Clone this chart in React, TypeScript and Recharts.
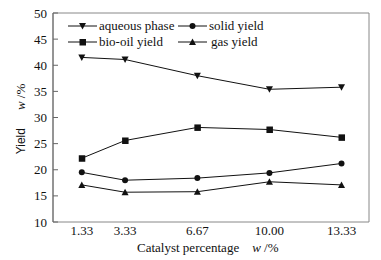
import { LineChart, Line, XAxis, YAxis, ReferenceArea } from "recharts";

// catalyst percentage w/% (x positions of the points)
const catalyst = [1.33, 3.33, 6.67, 10.0, 13.33];

// yields w/%
const aqueousPhase = [41.5, 41.1, 38.0, 35.4, 35.8];
const solidYield = [19.5, 18.0, 18.4, 19.4, 21.2];
const bioOilYield = [22.2, 25.6, 28.1, 27.7, 26.2];
const gasYield = [17.1, 15.7, 15.8, 17.7, 17.1];

const yTicks = [10, 15, 20, 25, 30, 35, 40, 45, 50];
const xTickMarks = [1.667, 3.333, 5, 6.667, 8.333, 10, 11.667, 13.333];
const X_MAX = 14.6;

const data = catalyst.map((c, i) => ({
  c,
  aqueous: aqueousPhase[i],
  solid: solidYield[i],
  bioOil: bioOilYield[i],
  gas: gasYield[i],
}));

const SERIF = '"Liberation Serif", "Times New Roman", serif';
const SANS = '"Liberation Sans", Arial, sans-serif';
const INK = "#111";
const AXIS = "#666";

type Kind = "down" | "up" | "square" | "circle";

function Marker({ kind, cx, cy }: { kind: Kind; cx: number; cy: number }) {
  const h = 3.5;
  if (kind === "circle") return <circle cx={cx} cy={cy} r={3} fill={INK} />;
  if (kind === "square")
    return <rect x={cx - 3} y={cy - 3} width={6.5} height={6.5} fill={INK} />;
  if (kind === "down")
    return (
      <path d={`M${cx - h},${cy - h + 0.5}L${cx + h},${cy - h + 0.5}L${cx},${cy + h}Z`} fill={INK} />
    );
  return <path d={`M${cx - h},${cy + h - 0.5}L${cx + h},${cy + h - 0.5}L${cx},${cy - h}Z`} fill={INK} />;
}

const dotOf = (kind: Kind) => (p: any) =>
  <Marker key={`${kind}-${p.index}`} kind={kind} cx={p.cx} cy={p.cy} />;

function YTitle() {
  return (
    <text transform="rotate(-90 25 119)" x={25} y={119} textAnchor="middle" fill={INK}>
      <tspan fontFamily={SANS} fontSize={12}>Yield</tspan>
      <tspan dx={18} fontFamily={SERIF} fontSize={13} fontStyle="italic">w</tspan>
      <tspan fontFamily={SERIF} fontSize={13}> /%</tspan>
    </text>
  );
}

function XTitle() {
  return (
    <text x={137} y={252} fill={INK} fontFamily={SERIF} fontSize={13}>
      <tspan>Catalyst percentage</tspan>
      <tspan dx={13} fontStyle="italic">w</tspan>
      <tspan> /%</tspan>
    </text>
  );
}

const legendItems: { name: string; kind: Kind; left: number; top: number }[] = [
  { name: "aqueous phase", kind: "down", left: 68, top: 26 },
  { name: "solid yield", kind: "circle", left: 178, top: 26 },
  { name: "bio-oil yield", kind: "square", left: 68, top: 42 },
  { name: "gas yield", kind: "up", left: 178, top: 42 },
];

function LegendBox() {
  return (
    <>
      {legendItems.map((it) => (
        <div
          key={it.name}
          style={{
            position: "absolute",
            left: it.left,
            top: it.top - 8,
            height: 16,
            display: "flex",
            alignItems: "center",
            fontFamily: SERIF,
            fontSize: 13,
            color: INK,
            whiteSpace: "nowrap",
          }}
        >
          <svg width={30} height={16} style={{ display: "block" }}>
            <line x1={0} y1={8} x2={29} y2={8} stroke={INK} strokeWidth={1} />
            <Marker kind={it.kind} cx={14.5} cy={8} />
          </svg>
          <span style={{ marginLeft: it.kind === "up" ? 3 : 1 }}>{it.name}</span>
        </div>
      ))}
    </>
  );
}

export default function App() {
  return (
    <div style={{ position: "absolute", left: 0, top: 0, width: 381, height: 260, background: "#fff" }}>
      <LineChart
        width={381}
        height={260}
        data={data}
        margin={{ top: 13, right: 12, bottom: 18, left: 23 }}
      >
        <ReferenceArea
          x1={0}
          x2={X_MAX}
          y1={10}
          y2={50}
          fill="none"
          fillOpacity={0}
          stroke="#888"
          strokeWidth={1}
          ifOverflow="visible"
        />
        <XAxis
          xAxisId="marks"
          dataKey="c"
          type="number"
          domain={[0, X_MAX]}
          ticks={xTickMarks}
          interval={0}
          height={0}
          tick={false}
          tickSize={-5}
          tickLine={{ stroke: AXIS }}
          axisLine={{ stroke: AXIS }}
        />
        <XAxis
          dataKey="c"
          type="number"
          domain={[0, X_MAX]}
          ticks={catalyst}
          interval={0}
          height={20}
          tickLine={false}
          axisLine={false}
          tickSize={2}
          tickFormatter={(v: number) => v.toFixed(2)}
          tick={{ fill: INK, fontFamily: SERIF, fontSize: 13 }}
        />
        <YAxis
          type="number"
          domain={[10, 50]}
          ticks={yTicks}
          interval={0}
          width={30}
          tickSize={-5}
          tickMargin={11}
          tickLine={{ stroke: AXIS }}
          axisLine={{ stroke: AXIS }}
          tick={{ fill: INK, fontFamily: SERIF, fontSize: 13 }}
          label={<YTitle />}
        />
        <Line dataKey="aqueous" stroke={INK} strokeWidth={1} dot={dotOf("down")} isAnimationActive={false} />
        <Line dataKey="solid" stroke={INK} strokeWidth={1} dot={dotOf("circle")} isAnimationActive={false} />
        <Line dataKey="bioOil" stroke={INK} strokeWidth={1} dot={dotOf("square")} isAnimationActive={false} />
        <Line dataKey="gas" stroke={INK} strokeWidth={1} dot={dotOf("up")} isAnimationActive={false} />
      </LineChart>
      <svg width={381} height={260} style={{ position: "absolute", left: 0, top: 0, pointerEvents: "none" }}>
        <XTitle />
      </svg>
      <LegendBox />
    </div>
  );
}
